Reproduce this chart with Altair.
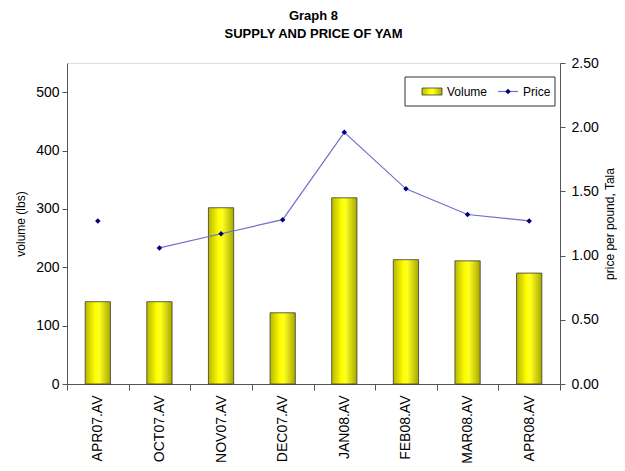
import altair as alt
import pandas as pd

months = ["APR07.AV", "OCT07.AV", "NOV07.AV", "DEC07.AV", "JAN08.AV", "FEB08.AV", "MAR08.AV", "APR08.AV"]
volume = [141, 141, 302, 122, 319, 213, 211, 190]
price = [1.27, 1.06, 1.17, 1.28, 1.96, 1.52, 1.32, 1.27]
# the price line is not drawn between the first two months
connected = [False, True, True, True, True, True, True, True]

df = pd.DataFrame({"month": months, "volume": volume, "price": price, "connected": connected})
one = alt.Data(values=[{"k": 1}])

FONT = "Liberation Sans"
W, H = 493, 321

xscale = alt.Scale(paddingInner=0, paddingOuter=0)
x = alt.X("month:N", sort=months, title=None, scale=xscale,
          axis=alt.Axis(labelAngle=-90, labelAlign="right", labelBaseline="middle",
                        labelFont=FONT, labelFontSize=14, labelColor="#000",
                        tickBand="extent", tickSize=6, labelPadding=5,
                        domainColor="#555", tickColor="#555"))

grad = alt.LinearGradient(gradient="linear", x1=0, x2=1, y1=0, y2=0,
                          stops=[alt.GradientStop(color="#b8b800", offset=0),
                                 alt.GradientStop(color="#ffff00", offset=0.4),
                                 alt.GradientStop(color="#ffff20", offset=0.55),
                                 alt.GradientStop(color="#a8a800", offset=1)])

bars = alt.Chart(df).mark_bar(width=alt.RelativeBandSize(0.41), color=grad,
                              stroke="#3a3a3a", strokeWidth=0.8).encode(
    x=x,
    y=alt.Y("volume:Q", title="volume (lbs)",
            scale=alt.Scale(domain=[0, 550], nice=False),
            axis=alt.Axis(values=[0, 100, 200, 300, 400, 500], grid=False,
                          labelFont=FONT, labelFontSize=14, labelColor="#000",
                          titleFont=FONT, titleFontSize=12, titleFontWeight="normal",
                          titleColor="#000", titlePadding=8, tickSize=5, labelPadding=3,
                          domainColor="#555", tickColor="#555")),
)

yp = alt.Y("price:Q", title="price per pound, Tala",
           scale=alt.Scale(domain=[0, 2.5], nice=False),
           axis=alt.Axis(orient="right", values=[0, 0.5, 1.0, 1.5, 2.0, 2.5], format=".2f",
                         grid=False, labelFont=FONT, labelFontSize=14, labelColor="#000",
                         titleFont=FONT, titleFontSize=12, titleFontWeight="normal",
                         titleColor="#000", titlePadding=6, titleAngle=270,
                         titleBaseline="top",
                         tickSize=5, labelPadding=6,
                         domainColor="#555", tickColor="#555"))

line = alt.Chart(df).transform_filter("datum.connected").mark_line(
    color="#6f6fcf", strokeWidth=1.2).encode(x=alt.X("month:N", sort=months, scale=xscale), y=yp)
points = alt.Chart(df).mark_point(shape="diamond", filled=True, color="#000080",
                                  size=30, opacity=1).encode(
    x=alt.X("month:N", sort=months, scale=xscale), y=yp)

price_layer = alt.layer(line, points)

# manual legend (pixel positions inside the plot area)
legend_box = alt.Chart(one).mark_rect(fill="white", stroke="#333", strokeWidth=1).encode(
    x=alt.value(338), x2=alt.value(488), y=alt.value(14), y2=alt.value(43))
legend_sw = alt.Chart(one).mark_rect(color=grad, stroke="#3a3a3a", strokeWidth=0.8).encode(
    x=alt.value(355), x2=alt.value(375), y=alt.value(25), y2=alt.value(32))
legend_t1 = alt.Chart(one).mark_text(text="Volume", align="left", baseline="middle",
                                     font=FONT, fontSize=12, fontWeight="normal", color="#000").encode(
    x=alt.value(380), y=alt.value(28.5))
legend_line = alt.Chart(one).mark_rule(color="#6f6fcf", strokeWidth=1.2).encode(
    x=alt.value(431), x2=alt.value(451), y=alt.value(28.5))
legend_pt = alt.Chart(one).mark_point(shape="diamond", filled=True, color="#000080",
                                      size=30, opacity=1).encode(x=alt.value(441), y=alt.value(28.5))
legend_t2 = alt.Chart(one).mark_text(text="Price", align="left", baseline="middle",
                                     font=FONT, fontSize=12, fontWeight="normal", color="#000").encode(
    x=alt.value(456), y=alt.value(28.5))
legend = alt.layer(legend_box, legend_sw, legend_t1, legend_line, legend_pt, legend_t2)

chart = alt.layer(bars, price_layer, legend).resolve_scale(y="independent").properties(
    width=W, height=H,
    title=alt.TitleParams(text=["Graph 8", "SUPPLY AND PRICE OF YAM"], font=FONT,
                          fontSize=13, fontWeight="bold", color="#000", anchor="middle",
                          lineHeight=18, offset=15),
    autosize=alt.AutoSizeParams(type="none"),
    padding={"left": 59, "top": 55, "right": 57, "bottom": 79},
).configure_view(stroke="#888", strokeWidth=1).configure(background="white")

chart.save("out.html", embed_options={"renderer": "svg", "actions": False})
